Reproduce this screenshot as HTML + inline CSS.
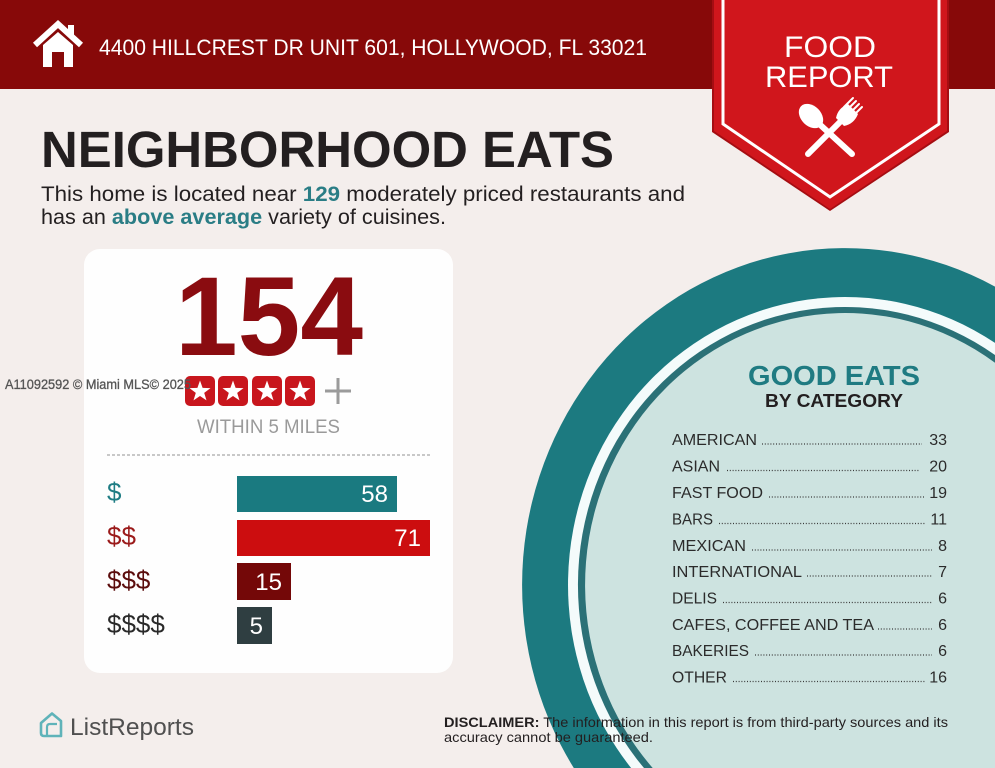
<!DOCTYPE html>
<html><head><meta charset="utf-8"><style>
html,body{margin:0;padding:0;background:#f4eeec;width:995px;height:768px;overflow:hidden;}
svg{display:block;}
text{font-family:"Liberation Sans",sans-serif;}
</style></head><body>
<svg width="995" height="768" viewBox="0 0 995 768" xmlns="http://www.w3.org/2000/svg">
<rect x="0" y="0" width="995" height="768" fill="#f4eeec"/>
<!-- header -->
<rect x="0" y="0" width="995" height="89" fill="#870909"/>
<!-- house icon -->
<polyline points="35,45 58,24 81,45" fill="none" stroke="#fff" stroke-width="6" stroke-linejoin="miter"/>
<rect x="68" y="25" width="6" height="12" fill="#fff"/>
<path d="M43,45 L58,32 L73,45 L73,67 L64,67 L64,52 L52,52 L52,67 L43,67 Z" fill="#fff"/>
<text x="99" y="55" font-size="22" fill="#fff" textLength="548" lengthAdjust="spacingAndGlyphs">4400 HILLCREST DR UNIT 601, HOLLYWOOD, FL 33021</text>

<!-- ribbon -->
<polygon points="712,0 949,0 949,132 830,211 712,132" fill="#a50d12"/>
<polygon points="714,0 947,0 947,131 830,209 714,131" fill="#d0161c"/>
<polyline points="723,0 723,124 830,197 939,124 939,0" fill="none" stroke="#fff" stroke-width="3"/>
<text x="830" y="57" font-size="30" fill="#fff" text-anchor="middle" textLength="92" lengthAdjust="spacingAndGlyphs">FOOD</text>
<text x="829" y="87" font-size="30" fill="#fff" text-anchor="middle" textLength="128" lengthAdjust="spacingAndGlyphs">REPORT</text>
<!-- utensils -->
<g fill="#fff" stroke="#fff" stroke-linecap="round">
  <ellipse cx="811" cy="116" rx="10" ry="14" transform="rotate(-45 811 116)" stroke="none"/>
  <line x1="816" y1="121" x2="852" y2="154" stroke-width="6"/>
  <line x1="843" y1="119" x2="808" y2="154" stroke-width="6"/>
  <path d="M836,118 Q838,108 848,104 L858,114 Q854,124 844,126 Z" stroke="none"/>
  <line x1="847" y1="110" x2="856" y2="101" stroke-width="2"/>
  <line x1="850" y1="113" x2="859" y2="104" stroke-width="2"/>
  <line x1="844" y1="107" x2="853" y2="98" stroke-width="2"/>
  <line x1="853" y1="116" x2="862" y2="107" stroke-width="2"/>
</g>

<!-- title -->
<text x="41" y="167" font-size="51" font-weight="bold" fill="#231f20" textLength="573" lengthAdjust="spacingAndGlyphs">NEIGHBORHOOD EATS</text>
<text x="41" y="201" font-size="21" fill="#231f20" textLength="644" lengthAdjust="spacingAndGlyphs">This home is located near <tspan font-weight="bold" fill="#2a7d85">129</tspan> moderately priced restaurants and</text>
<text x="41" y="224" font-size="21" fill="#231f20" textLength="405" lengthAdjust="spacingAndGlyphs">has an <tspan font-weight="bold" fill="#2a7d85">above average</tspan> variety of cuisines.</text>

<!-- circle (clipped to frame) -->
<path d="M573.8,768 A323,337 0 0 1 995,286.6 L995,768 Z" fill="#1c7a80"/>
<path d="M631.1,768 A277,288 0 0 1 995,342.9 L995,768 Z" fill="#f4fbfb"/>
<path d="M644,768 A267,278 0 0 1 995,355 L995,768 Z" fill="#2b7177"/>
<path d="M652.7,768 A260,272 0 0 1 995,362.8 L995,768 Z" fill="#cde3e0"/>

<!-- card -->
<rect x="84" y="249" width="369" height="424" rx="16" ry="16" fill="#fefefe"/>
<text x="175" y="355" font-size="112" font-weight="bold" fill="#8a0c10" textLength="188" lengthAdjust="spacingAndGlyphs">154</text>
<!-- stars -->
<g>
  <rect x="185" y="376" width="30" height="30" rx="5" fill="#c8161d"/>
  <rect x="218" y="376" width="30" height="30" rx="5" fill="#c8161d"/>
  <rect x="252" y="376" width="30" height="30" rx="5" fill="#c8161d"/>
  <rect x="285" y="376" width="30" height="30" rx="5" fill="#c8161d"/>
  <g fill="#fff">
    <polygon transform="translate(200 391.5)" points="0,-11 2.6,-3.6 10.5,-3.4 4.2,1.4 6.5,8.9 0,4.5 -6.5,8.9 -4.2,1.4 -10.5,-3.4 -2.6,-3.6"/>
    <polygon transform="translate(233 391.5)" points="0,-11 2.6,-3.6 10.5,-3.4 4.2,1.4 6.5,8.9 0,4.5 -6.5,8.9 -4.2,1.4 -10.5,-3.4 -2.6,-3.6"/>
    <polygon transform="translate(267 391.5)" points="0,-11 2.6,-3.6 10.5,-3.4 4.2,1.4 6.5,8.9 0,4.5 -6.5,8.9 -4.2,1.4 -10.5,-3.4 -2.6,-3.6"/>
    <polygon transform="translate(300 391.5)" points="0,-11 2.6,-3.6 10.5,-3.4 4.2,1.4 6.5,8.9 0,4.5 -6.5,8.9 -4.2,1.4 -10.5,-3.4 -2.6,-3.6"/>
  </g>
  <line x1="325" y1="391" x2="351" y2="391" stroke="#9b9b9b" stroke-width="3"/>
  <line x1="338" y1="378" x2="338" y2="404" stroke="#9b9b9b" stroke-width="3"/>
</g>
<text x="5" y="389" font-size="13.5" fill="#555" stroke="#555" stroke-width="0.3" textLength="186" lengthAdjust="spacingAndGlyphs">A11092592 © Miami MLS© 2025</text>
<text x="197" y="433" font-size="19.5" fill="#9a9a9a" textLength="143" lengthAdjust="spacingAndGlyphs">WITHIN 5 MILES</text>
<line x1="107" y1="455" x2="430" y2="455" stroke="#a8a8a8" stroke-width="1.2" stroke-dasharray="3 2"/>

<!-- bars -->
<rect x="237" y="476" width="160" height="36" fill="#1a7a80"/>
<rect x="237" y="520" width="193" height="36" fill="#cc0d0f"/>
<rect x="237" y="563" width="54" height="37" fill="#740808"/>
<rect x="237" y="607" width="35" height="37" fill="#2f3e41"/>
<text x="388" y="502" font-size="24" fill="#fff" text-anchor="end">58</text>
<text x="421" y="546" font-size="24" fill="#fff" text-anchor="end">71</text>
<text x="282" y="590" font-size="24" fill="#fff" text-anchor="end">15</text>
<text x="263" y="634" font-size="24" fill="#fff" text-anchor="end">5</text>
<text x="107" y="501" font-size="26" fill="#1f7d84">$</text>
<text x="107" y="545" font-size="26" fill="#9b1b1b">$$</text>
<text x="107" y="589" font-size="26" fill="#5b0d0d">$$$</text>
<text x="107" y="633" font-size="26" fill="#2a2a2a">$$$$</text>

<!-- good eats -->
<text x="834" y="385" font-size="28" font-weight="bold" fill="#1f7b82" text-anchor="middle" textLength="172" lengthAdjust="spacingAndGlyphs">GOOD EATS</text>
<text x="834" y="407" font-size="18" font-weight="bold" fill="#231f20" text-anchor="middle" textLength="138" lengthAdjust="spacingAndGlyphs">BY CATEGORY</text>
<g font-size="16" fill="#2b2b2b">
  <text x="672" y="445" textLength="85" lengthAdjust="spacingAndGlyphs">AMERICAN</text>
  <text x="672" y="471.5" textLength="48" lengthAdjust="spacingAndGlyphs">ASIAN</text>
  <text x="672" y="498" textLength="91" lengthAdjust="spacingAndGlyphs">FAST FOOD</text>
  <text x="672" y="524.5" textLength="41" lengthAdjust="spacingAndGlyphs">BARS</text>
  <text x="672" y="551" textLength="74" lengthAdjust="spacingAndGlyphs">MEXICAN</text>
  <text x="672" y="577" textLength="130" lengthAdjust="spacingAndGlyphs">INTERNATIONAL</text>
  <text x="672" y="603.5" textLength="45" lengthAdjust="spacingAndGlyphs">DELIS</text>
  <text x="672" y="630" textLength="202" lengthAdjust="spacingAndGlyphs">CAFES, COFFEE AND TEA</text>
  <text x="672" y="656" textLength="77" lengthAdjust="spacingAndGlyphs">BAKERIES</text>
  <text x="672" y="682.5" textLength="55" lengthAdjust="spacingAndGlyphs">OTHER</text>
  <g text-anchor="end">
    <text x="947" y="445">33</text>
    <text x="947" y="471.5">20</text>
    <text x="947" y="498">19</text>
    <text x="947" y="524.5">11</text>
    <text x="947" y="551">8</text>
    <text x="947" y="577">7</text>
    <text x="947" y="603.5">6</text>
    <text x="947" y="630">6</text>
    <text x="947" y="656">6</text>
    <text x="947" y="682.5">16</text>
  </g>
</g>
<g stroke="#3a3a3a" stroke-width="1.3" stroke-dasharray="1 1.8">
  <line x1="762" y1="444" x2="922" y2="444"/>
  <line x1="727" y1="470.5" x2="920" y2="470.5"/>
  <line x1="769" y1="497" x2="925" y2="497"/>
  <line x1="719" y1="523.5" x2="925" y2="523.5"/>
  <line x1="752" y1="550" x2="932" y2="550"/>
  <line x1="807" y1="576" x2="932" y2="576"/>
  <line x1="723" y1="602.5" x2="932" y2="602.5"/>
  <line x1="878" y1="629" x2="932" y2="629"/>
  <line x1="755" y1="655" x2="932" y2="655"/>
  <line x1="733" y1="681.5" x2="925" y2="681.5"/>
</g>

<!-- footer -->
<path d="M41,723 L52,713.5 L61,721 L61,736 L44,736 Q41,736 41,733 Z" fill="none" stroke="#5fb3b9" stroke-width="2.6" stroke-linejoin="round"/>
<path d="M47,736 L47,727 Q47,724 50,724 L57,724" fill="none" stroke="#5fb3b9" stroke-width="2.2"/>
<text x="70" y="735" font-size="24" fill="#505050" textLength="124" lengthAdjust="spacingAndGlyphs">ListReports</text>
<text x="444" y="727" font-size="14" fill="#231f20" textLength="504" lengthAdjust="spacingAndGlyphs"><tspan font-weight="bold">DISCLAIMER:</tspan> The information in this report is from third-party sources and its</text>
<text x="444" y="742" font-size="14" fill="#231f20" textLength="209" lengthAdjust="spacingAndGlyphs">accuracy cannot be guaranteed.</text>
</svg>
</body></html>
